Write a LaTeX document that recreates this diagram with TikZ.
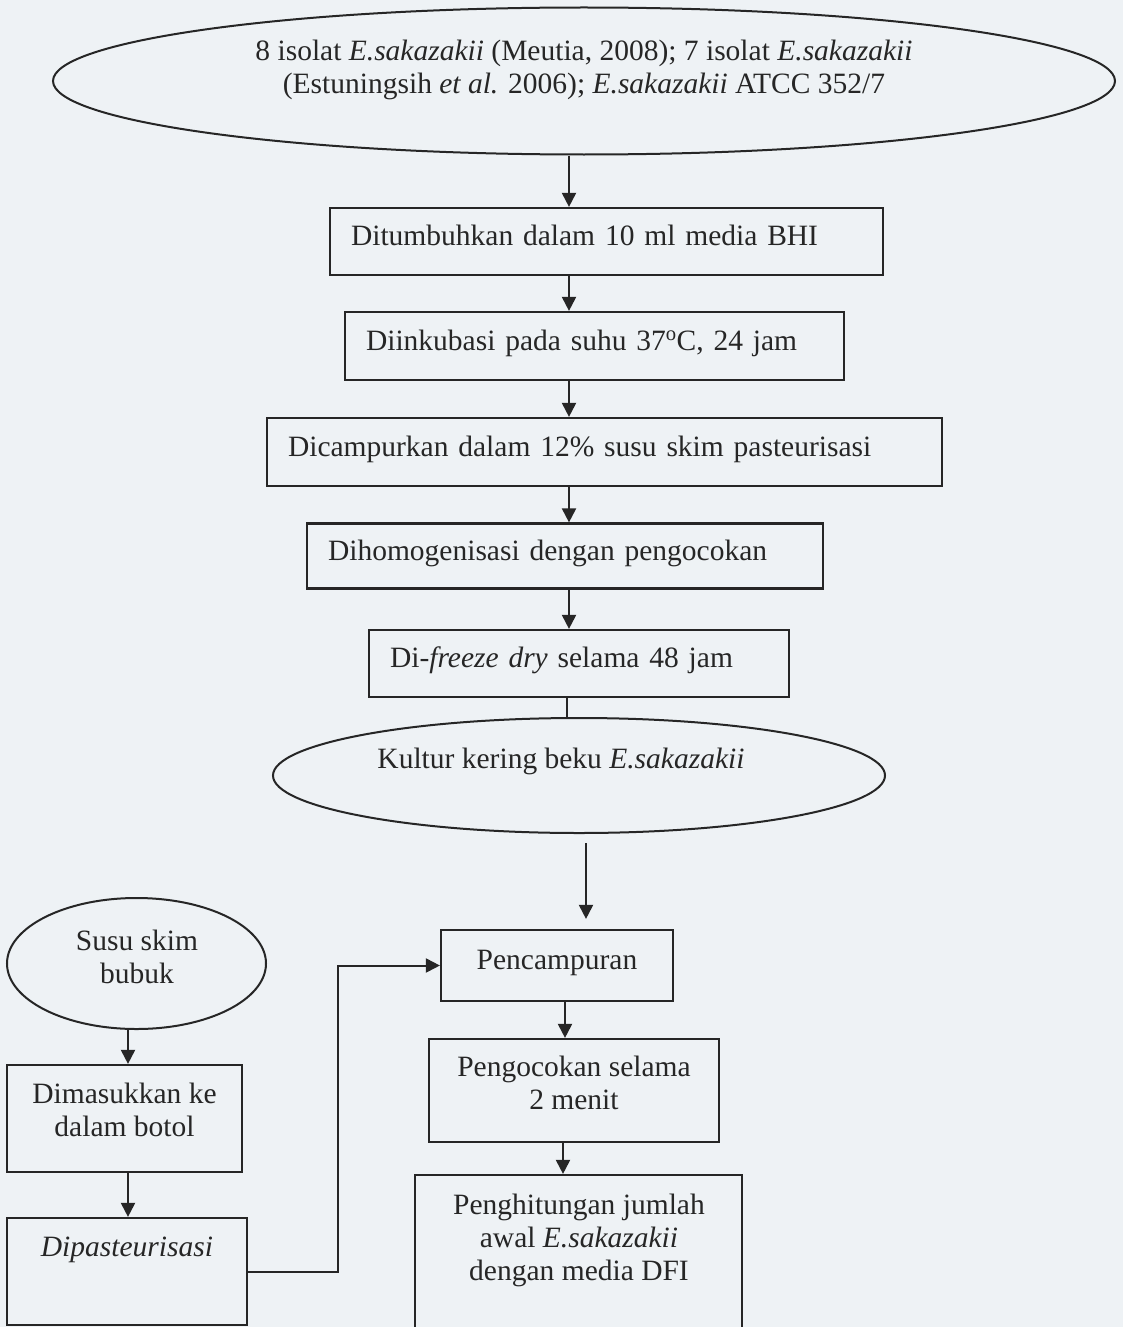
\documentclass[tikz,border=0pt]{standalone}
\usepackage{fontspec}
\setmainfont{Liberation Serif}
\usetikzlibrary{arrows.meta,shapes.geometric,calc}
\definecolor{ink}{HTML}{262626}
\definecolor{paper}{HTML}{EEF2F5}
\begin{document}
\begin{tikzpicture}[x=1pt,y=-1pt,
  font=\fontsize{29.5}{33}\selectfont,
  boxnode/.style={draw=ink, line width=2.2pt, rectangle, inner xsep=21pt, inner ysep=0pt, align=left, text=ink},
  oneline/.style={text height=18pt, text depth=10pt},
  ovalnode/.style={draw=ink, line width=2pt, ellipse, inner sep=0pt},
  txt/.style={inner sep=0pt, align=center, text=ink},
  arr/.style={draw=ink, line width=2pt, -{Triangle[length=14pt,width=14pt]}},
  plainline/.style={draw=ink, line width=2pt}]
\fill[paper] (0,0) rectangle (1123,1327);
\useasboundingbox (0,0) rectangle (1123,1327);

% column coordinates
\coordinate (colA) at (569,0);
\coordinate (colB) at (567,0);
\coordinate (colC) at (586,0);
\coordinate (colD) at (565,0);
\coordinate (colE) at (563,0);
\coordinate (colF) at (128,0);
\coordinate (colG) at (338,0);

% main column
\node[ovalnode, minimum width=1062pt, minimum height=147pt] (src) at (584,81) {};
\node[txt] (srct) at (584,69.6) {8 isolat \textit{E.sakazakii} (Meutia, 2008); 7 isolat \textit{E.sakazakii}\\(Estuningsih \textit{et al.} 2006); \textit{E.sakazakii} ATCC 352/7};

\node[boxnode, oneline, text width=511pt, minimum height=67pt] (b1) at (606.5,241.5) {Ditumbuhkan dalam 10 ml media BHI};
\node[boxnode, oneline, text width=457pt, minimum height=68pt] (b2) at (594.5,346) {Diinkubasi pada suhu 37\textsuperscript{o}C, 24 jam};
\node[boxnode, oneline, text width=633pt, minimum height=68pt] (b3) at (604.5,452) {Dicampurkan dalam 12\% susu skim pasteurisasi};
\node[boxnode, oneline, text width=474pt, minimum height=65pt] (b4) at (565,556) {Dihomogenisasi dengan pengocokan};
\node[boxnode, oneline, text width=378pt, minimum height=67pt] (b5) at (579,663.5) {Di-\textit{freeze dry} selama 48 jam};

\node[ovalnode, minimum width=612pt, minimum height=115pt] (dry) at (579,775.5) {};
\node[txt] (dryt) at (561,761) {Kultur kering beku \textit{E.sakazakii}};

% lower right column
\node[boxnode, oneline, align=center, minimum width=232pt, minimum height=71pt, inner xsep=0pt] (pc) at (557,965.5) {Pencampuran};
\node[boxnode, minimum width=290pt, minimum height=103pt, inner xsep=0pt] (pk) at (574,1090.5) {};
\node[txt] (pkt) at (574,1083) {Pengocokan selama\\2 menit};
\node[boxnode, minimum width=327pt, minimum height=185pt, inner xsep=0pt] (ph) at (578.5,1267.5) {};
\node[txt] (pht) at (579,1240.5) {Penghitungan jumlah\\awal \textit{E.sakazakii}\\dengan media DFI};

% left column
\node[ovalnode, minimum width=259pt, minimum height=131pt] (ss) at (136.5,963.5) {};
\node[txt] (sst) at (137,956.6) {Susu skim\\bubuk};
\node[boxnode, minimum width=235pt, minimum height=107pt, inner xsep=0pt] (dm) at (124.5,1118.5) {};
\node[txt] (dmt) at (124.5,1110) {Dimasukkan ke\\dalam botol};
\node[boxnode, minimum width=240pt, minimum height=107pt, inner xsep=0pt] (dp) at (127,1271.5) {};
\node[txt] (dpt) at (127,1250) {\textit{Dipasteurisasi}};

% connectors
\draw[arr] (src.south -| colA) -- (b1.north -| colA);
\draw[arr] (b1.south -| colA) -- (b2.north -| colA);
\draw[arr] (b2.south -| colA) -- (b3.north -| colA);
\draw[arr] (b3.south -| colA) -- (b4.north -| colA);
\draw[arr] (b4.south -| colA) -- (b5.north -| colA);
\draw[plainline] (b5.south -| colB) -- (dry.north -| colB);
\draw[arr, shorten <=9pt, shorten >=10pt] (dry.south -| colC) -- (pc.north -| colC);
\draw[arr] (pc.south -| colD) -- (pk.north -| colD);
\draw[arr] (pk.south -| colE) -- (ph.north -| colE);
\draw[arr] (ss.south -| colF) -- (dm.north -| colF);
\draw[arr] (dm.south -| colF) -- (dp.north -| colF);
\draw[arr] (dp.east) -- (dp.east -| colG) -- (pc.west -| colG) -- (pc.west);
\end{tikzpicture}
\end{document}
